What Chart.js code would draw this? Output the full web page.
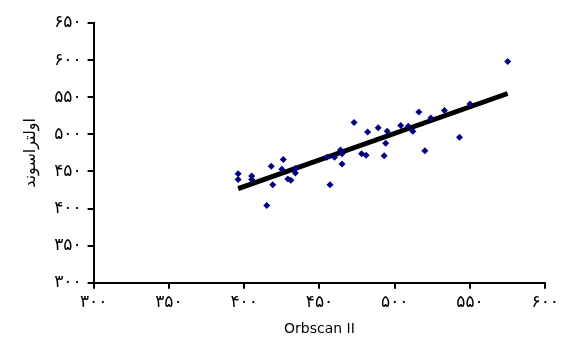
<!DOCTYPE html>
<html>
<head>
<meta charset="utf-8">
<script src="https://cdn.jsdelivr.net/npm/chart.js@4/dist/chart.umd.min.js"></script>
<style>
  body { margin: 0; background: #fff; }
</style>
</head>
<body>
<canvas id="myChart" width="563" height="347"></canvas>
<script>
// Orbscan II vs اولتراسوند
let orbscan = [396, 396, 405, 405, 415, 418, 419, 426, 425, 429, 431, 434, 434, 457, 455, 460, 464, 465, 465,
    473, 478, 481, 482, 489, 493, 494, 495, 504, 509, 512, 516, 520, 524, 533, 543, 550, 575];
let ultrasound = [447, 439, 444, 439, 404, 457, 432, 466, 453, 440, 438, 454, 448, 432, 469, 469, 479, 474, 460,
    516, 474, 472, 503, 509, 471, 488, 504, 512, 511, 504, 530, 478, 522, 532, 496, 541, 598];
let trendX = [396, 575];
let trendY = [427, 555];

let faDigits = '۰۱۲۳۴۵۶۷۸۹';
function toFa(v) {
    return String(v).replace(/[0-9]/g, d => faDigits[d]);
}

let points = orbscan.map((x, i) => ({ x: x, y: ultrasound[i] }));
let trend = trendX.map((x, i) => ({ x: x, y: trendY[i] }));

let font = { family: '"DejaVu Sans", sans-serif', size: 17 };

let ctx = document.getElementById('myChart').getContext('2d');
let myChart = new Chart(ctx, {
    type: 'scatter',
    data: {
        datasets: [{
            data: points,
            backgroundColor: '#000080',
            borderColor: '#000080',
            pointStyle: 'rectRot',
            pointRadius: 3.5,
            pointHoverRadius: 3.5,
            borderWidth: 0
        }, {
            type: 'line',
            data: trend,
            borderColor: '#000',
            borderWidth: 5,
            pointRadius: 0,
            fill: false
        }]
    },
    options: {
        responsive: false,
        animation: false,
        layout: { padding: { top: 23, right: 6, left: 17, bottom: 5 } },
        plugins: { legend: { display: false }, tooltip: { enabled: false } },
        scales: {
            x: {
                type: 'linear',
                min: 300, max: 600,
                ticks: { stepSize: 50, color: '#000', font: font, padding: 4, callback: v => toFa(v) },
                grid: { drawOnChartArea: false, drawTicks: true, tickLength: 6, color: '#000', lineWidth: 2 },
                border: { color: '#000', width: 2 },
                title: { display: true, text: 'Orbscan II', color: '#000', font: { family: '"DejaVu Sans", sans-serif', size: 14 }, padding: { top: 4 } }
            },
            y: {
                min: 300, max: 650,
                ticks: { stepSize: 50, color: '#000', font: font, padding: 6, callback: v => toFa(v) },
                grid: { drawOnChartArea: false, drawTicks: true, tickLength: 6, color: '#000', lineWidth: 2 },
                border: { color: '#000', width: 2 },
                title: { display: true, text: 'اولتراسوند', color: '#000', font: { family: '"DejaVu Sans", sans-serif', size: 16 }, padding: { bottom: 8 } }
            }
        }
    }
});
</script>
</body>
</html>
